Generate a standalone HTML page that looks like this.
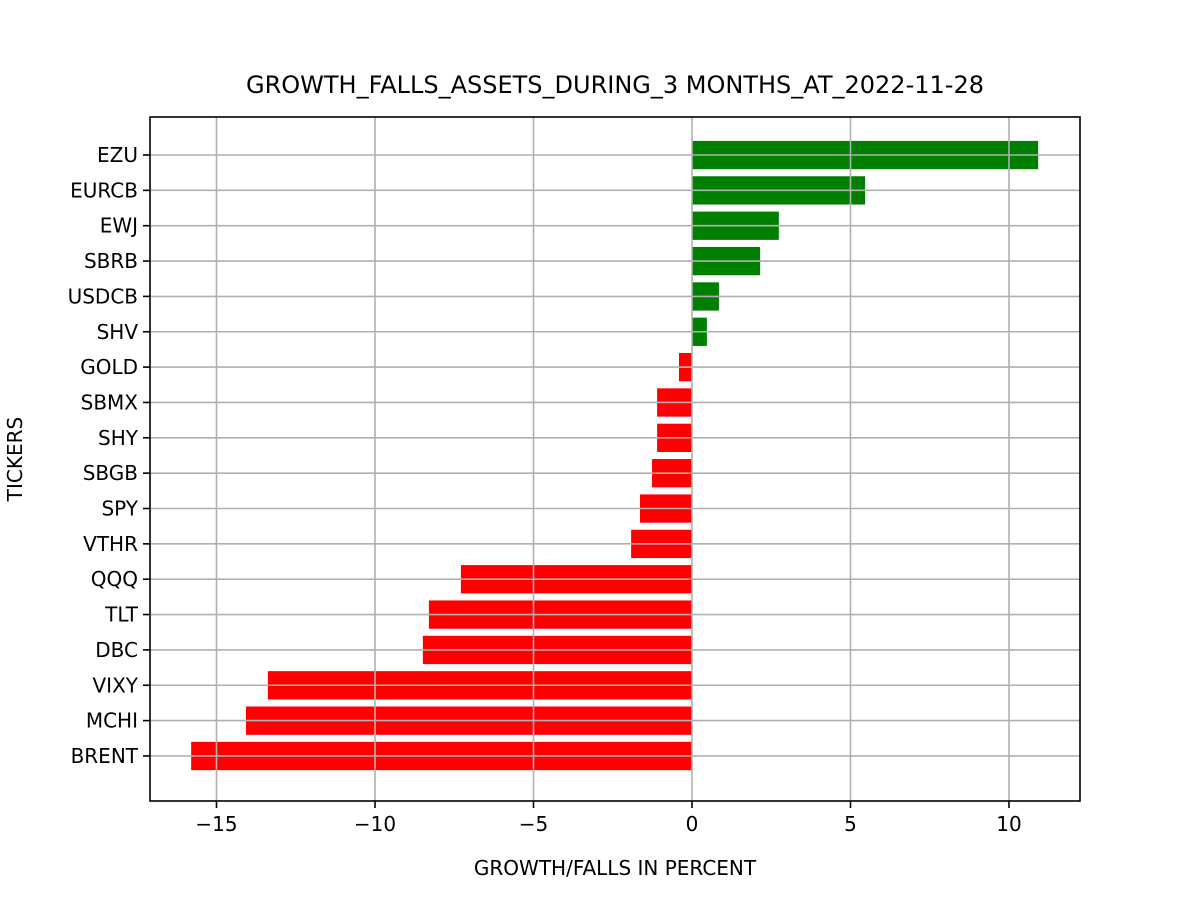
<!DOCTYPE html>
<html><head><meta charset="utf-8"><style>body{margin:0;background:#fff}svg text{font-family:"DejaVu Sans","Liberation Sans",sans-serif}</style></head>
<body>
<svg id="c" width="1200" height="900" xmlns="http://www.w3.org/2000/svg"></svg>
<script>
const categories=["EZU","EURCB","EWJ","SBRB","USDCB","SHV","GOLD","SBMX","SHY","SBGB","SPY","VTHR","QQQ","TLT","DBC","VIXY","MCHI","BRENT"];
const values=[10.92,5.46,2.74,2.15,0.85,0.47,-0.41,-1.10,-1.10,-1.26,-1.64,-1.92,-7.29,-8.30,-8.49,-13.38,-14.07,-15.80];
const xTicks=[-15,-10,-5,0,5,10];
const xTickLabels=["\u221215","\u221210","\u22125","0","5","10"];
const svg=document.getElementById('c');const NS="http://www.w3.org/2000/svg";
const L=150,R=1080,T=117,B=801;
const x=v=>692+v*31.7;
const y=i=>155+i*35.35;
function el(t,a,p){const e=document.createElementNS(NS,t);for(const k in a)e.setAttribute(k,a[k]);(p||svg).appendChild(e);return e;}
const bars=el('g',{});
categories.forEach((c,i)=>{const v=values[i];const r=el('rect',{x:Math.min(x(0),x(v)),y:y(i)-14.1,width:Math.abs(x(v)-x(0)),height:28.3,fill:v>=0?'#008000':'#ff0000'},bars);
});
const grid=el('g',{stroke:'#b0b0b0','stroke-width':1.6});
xTicks.forEach(t=>el('line',{x1:x(t),x2:x(t),y1:T,y2:B},grid));
categories.forEach((c,i)=>el('line',{x1:L,x2:R,y1:y(i),y2:y(i)},grid));
const fr=el('rect',{x:L,y:T,width:R-L,height:B-T,fill:'none',stroke:'#000','stroke-width':1.6});
const xa=el('g',{});
xTicks.forEach((t,k)=>{el('line',{x1:x(t),x2:x(t),y1:B,y2:B+7,stroke:'#000','stroke-width':1.6},xa);
const tx=el('text',{x:x(t),y:B+30,'text-anchor':'middle','font-size':20},xa);tx.textContent=xTickLabels[k];});
const ya=el('g',{});
categories.forEach((c,i)=>{el('line',{x1:L-7,x2:L,y1:y(i),y2:y(i),stroke:'#000','stroke-width':1.6},ya);
const tx=el('text',{x:L-12,y:y(i)+7,'text-anchor':'end','font-size':20},ya);tx.textContent=c;});
let t=el('text',{x:615,y:93,'text-anchor':'middle','font-size':24});t.textContent="GROWTH_FALLS_ASSETS_DURING_3 MONTHS_AT_2022-11-28";
t=el('text',{x:615,y:875,'text-anchor':'middle','font-size':20});t.textContent="GROWTH/FALLS IN PERCENT";
t=el('text',{x:0,y:0,'text-anchor':'middle','font-size':20,transform:'translate(22,459) rotate(-90)'});t.textContent="TICKERS";
</script>
</body></html>
